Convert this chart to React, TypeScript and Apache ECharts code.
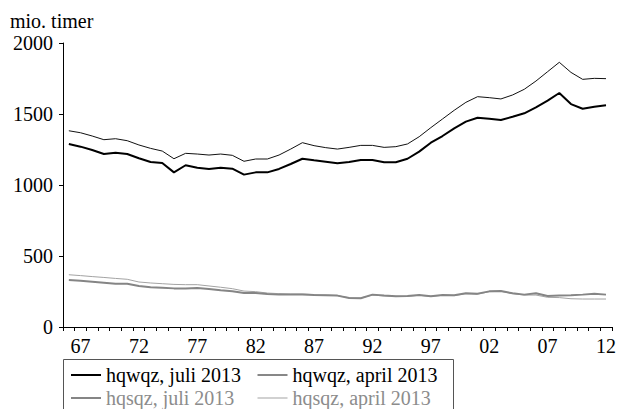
import React, { useEffect, useRef } from 'react';
import * as echarts from 'echarts';

// årstal 1966-2012
const years = [
  '1966', '1967', '1968', '1969', '1970', '1971', '1972', '1973', '1974', '1975',
  '1976', '1977', '1978', '1979', '1980', '1981', '1982', '1983', '1984', '1985',
  '1986', '1987', '1988', '1989', '1990', '1991', '1992', '1993', '1994', '1995',
  '1996', '1997', '1998', '1999', '2000', '2001', '2002', '2003', '2004', '2005',
  '2006', '2007', '2008', '2009', '2010', '2011', '2012',
];

const hqwqzJuli = [
  1289, 1270, 1246, 1218, 1227, 1218, 1188, 1162, 1155, 1089,
  1139, 1122, 1113, 1122, 1115, 1073, 1089, 1089, 1113, 1148,
  1185, 1174, 1164, 1153, 1162, 1176, 1176, 1160, 1160, 1185,
  1235, 1298, 1345, 1399, 1446, 1474, 1467, 1458, 1481, 1505,
  1547, 1594, 1648, 1570, 1537, 1551, 1561,
];

const hqwqzApril = [
  1382, 1368, 1345, 1319, 1326, 1312, 1282, 1258, 1239, 1185,
  1223, 1218, 1211, 1218, 1209, 1167, 1183, 1183, 1211, 1253,
  1298, 1277, 1263, 1253, 1265, 1279, 1279, 1265, 1270, 1289,
  1340, 1404, 1465, 1526, 1582, 1622, 1615, 1606, 1634, 1674,
  1732, 1798, 1864, 1793, 1744, 1751, 1749,
];

const hqsqzJuli = [
  331, 326, 319, 312, 305, 305, 289, 280, 277, 272,
  272, 275, 268, 258, 251, 239, 239, 232, 228, 228,
  228, 225, 223, 221, 204, 202, 228, 221, 216, 218,
  225, 216, 225, 223, 237, 235, 251, 253, 237, 228,
  237, 218, 221, 223, 228, 235, 228,
];

const hqsqzApril = [
  368, 362, 355, 349, 342, 336, 317, 310, 305, 300,
  298, 298, 289, 280, 270, 253, 249, 239, 235, 232,
  232, 228, 225, 221, 206, 204, 225, 219, 216, 216,
  223, 216, 223, 221, 235, 230, 249, 251, 235, 225,
  225, 209, 207, 199, 197, 197, 197,
];

const yTicks = [0, 500, 1000, 1500, 2000];

const FONT = 'Liberation Serif';

const App = () => {
  const chartRef = useRef<HTMLDivElement>(null);

  useEffect(() => {
    if (!chartRef.current) return;
    const chart = echarts.init(chartRef.current, null, { renderer: 'svg' });

    const legendText = (color: string) => ({
      fontSize: 20,
      fontFamily: FONT,
      color,
      padding: 0,
    });

    chart.setOption({
      animation: false,
      textStyle: { fontFamily: FONT },
      title: {
        text: 'mio. timer',
        left: 10,
        top: 11,
        padding: 0,
        textStyle: { fontSize: 20, fontWeight: 'normal', color: '#000', fontFamily: FONT },
      },
      grid: { left: 63, right: 6, top: 43, bottom: 82, containLabel: false },
      legend: [
        {
          orient: 'vertical',
          left: 70,
          top: 365,
          padding: 0,
          itemGap: 3,
          itemWidth: 30,
          itemHeight: 14,
          itemStyle: { opacity: 0 },
          data: [
            { name: 'hqwqz, juli 2013', textStyle: legendText('#000'), lineStyle: { width: 2 } },
            { name: 'hqsqz, juli 2013', textStyle: legendText('#8c8c8c'), lineStyle: { width: 2 } },
          ],
        },
        {
          orient: 'vertical',
          left: 257,
          top: 365,
          padding: 0,
          itemGap: 3,
          itemWidth: 30,
          itemHeight: 14,
          itemStyle: { opacity: 0 },
          data: [
            { name: 'hqwqz, april 2013', textStyle: legendText('#000'), lineStyle: { width: 1 } },
            { name: 'hqsqz, april 2013', textStyle: legendText('#8c8c8c'), lineStyle: { width: 1 } },
          ],
        },
      ],
      graphic: [
        {
          type: 'rect',
          shape: { x: 63.5, y: 359.5, width: 390, height: 60 },
          style: { fill: 'none', stroke: '#555', lineWidth: 1 },
          silent: true,
        },
      ],
      xAxis: {
        type: 'category',
        data: years,
        boundaryGap: true,
        axisLine: { lineStyle: { color: '#000', width: 1 } },
        axisTick: { show: true, interval: 0, length: 4, lineStyle: { color: '#000' } },
        axisLabel: {
          interval: (index: number) => (index - 1) % 5 === 0,
          formatter: (v: string) => v.slice(2),
          fontSize: 20,
          color: '#000',
          fontFamily: FONT,
          margin: 9,
        },
        splitLine: { show: false },
      },
      yAxis: {
        type: 'value',
        min: yTicks[0],
        max: yTicks[yTicks.length - 1],
        interval: 500,
        axisLine: { show: true, lineStyle: { color: '#000', width: 1 } },
        axisTick: { show: true, length: 4, lineStyle: { color: '#000' } },
        axisLabel: {
          fontSize: 20,
          color: '#000',
          fontFamily: FONT,
          margin: 10,
          formatter: (v: number) => String(v),
        },
        splitLine: { show: false },
      },
      series: [
        {
          name: 'hqwqz, juli 2013',
          type: 'line',
          data: hqwqzJuli,
          symbol: 'none',
          lineStyle: { color: '#000', width: 2 },
          itemStyle: { color: '#000' },
          z: 4,
        },
        {
          name: 'hqwqz, april 2013',
          type: 'line',
          data: hqwqzApril,
          symbol: 'none',
          lineStyle: { color: '#111', width: 1 },
          itemStyle: { color: '#111' },
          z: 3,
        },
        {
          name: 'hqsqz, juli 2013',
          type: 'line',
          data: hqsqzJuli,
          symbol: 'none',
          lineStyle: { color: '#858585', width: 2 },
          itemStyle: { color: '#858585' },
          z: 2,
        },
        {
          name: 'hqsqz, april 2013',
          type: 'line',
          data: hqsqzApril,
          symbol: 'none',
          lineStyle: { color: '#a3a3a3', width: 1 },
          itemStyle: { color: '#a3a3a3' },
          z: 1,
        },
      ],
    });

    return () => {
      chart.dispose();
    };
  }, []);

  return (
    <div
      ref={chartRef}
      style={{ position: 'fixed', left: 0, top: 0, width: 619, height: 409, background: '#fff' }}
    />
  );
};

export default App;
